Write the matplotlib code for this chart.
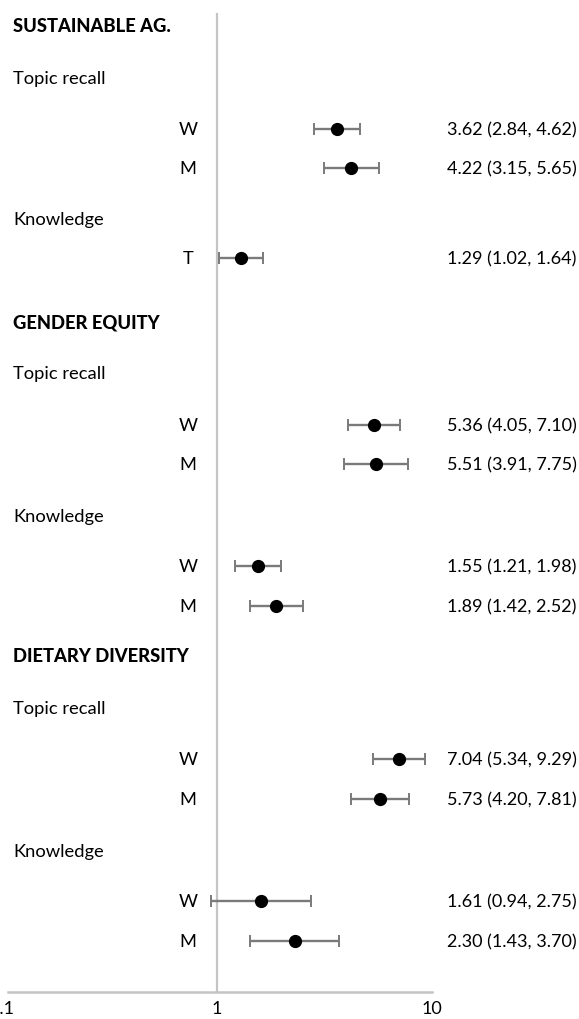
import matplotlib.pyplot as plt
import matplotlib.transforms as mtransforms

plt.rcParams['font.family'] = ['Lato', 'DejaVu Sans']

# section headers and sub headers
headers = ["SUSTAINABLE AG.", "GENDER EQUITY", "DIETARY DIVERSITY"]
header_y = [27, 323, 657]
subheaders = ["Topic recall", "Knowledge", "Topic recall", "Knowledge", "Topic recall", "Knowledge"]
subheader_y = [79, 220, 374, 517, 709, 852]

# one row per estimate
row_labels = ["W", "M", "T", "W", "M", "W", "M", "W", "M", "W", "M"]
row_y = [130, 169, 259, 426, 465, 567, 607, 760, 800, 902, 942]
estimate = [3.62, 4.22, 1.29, 5.36, 5.51, 1.55, 1.89, 7.04, 5.73, 1.61, 2.30]
lower = [2.84, 3.15, 1.02, 4.05, 3.91, 1.21, 1.42, 5.34, 4.20, 0.94, 1.43]
upper = [4.62, 5.65, 1.64, 7.10, 7.75, 1.98, 2.52, 9.29, 7.81, 2.75, 3.70]

xticks = [0.1, 1, 10]
xticklabels = ["0.1", "1", "10"]

W, H = 579, 1020
fig = plt.figure(figsize=(W / 100, H / 100), dpi=100)
ax = fig.add_axes([2 / W, (H - 993) / H, 430 / W, (993 - 14) / H])
ax.set_xscale('log')
ax.set_xlim(0.1, 10)
ax.set_ylim(993, 14)

grey = '#c4c4c4'
ax.axvline(1, color=grey, lw=1.6, zorder=1)

err_lo = [e - l for e, l in zip(estimate, lower)]
err_hi = [u - e for e, u in zip(estimate, upper)]
ax.errorbar(estimate, row_y, xerr=[err_lo, err_hi], fmt='o', color='black',
            ms=8.5, ecolor='#7a7a7a', elinewidth=1.7, capsize=4.5, capthick=1.4,
            zorder=3)

for s in ['top', 'right', 'left']:
    ax.spines[s].set_visible(False)
ax.spines['bottom'].set_color(grey)
ax.spines['bottom'].set_linewidth(1.8)
ax.spines['bottom'].set_bounds(0.107, 10)
ax.set_yticks([])
ax.set_xticks(xticks)
ax.set_xticklabels(xticklabels)
ax.minorticks_off()
ax.tick_params(axis='x', length=0, pad=6, labelsize=13)

# labels placed in figure x pixels, data y
trans = mtransforms.blended_transform_factory(
    mtransforms.Affine2D().scale(1 / W, 1) + fig.transFigure, ax.transData)

fs = 13.2
for txt, y in zip(headers, header_y):
    ax.text(13, y, txt, transform=trans, ha='left', va='center',
            fontsize=fs, fontweight='black', clip_on=False)
for txt, y in zip(subheaders, subheader_y):
    ax.text(13, y, txt, transform=trans, ha='left', va='center',
            fontsize=fs, clip_on=False)
for lab, y, e, l, u in zip(row_labels, row_y, estimate, lower, upper):
    ax.text(188, y, lab, transform=trans, ha='center', va='center',
            fontsize=fs, clip_on=False)
    ax.text(447, y, f"{e:.2f} ({l:.2f}, {u:.2f})", transform=trans,
            ha='left', va='center', fontsize=13, clip_on=False)

fig.savefig('out.png', dpi=100)
